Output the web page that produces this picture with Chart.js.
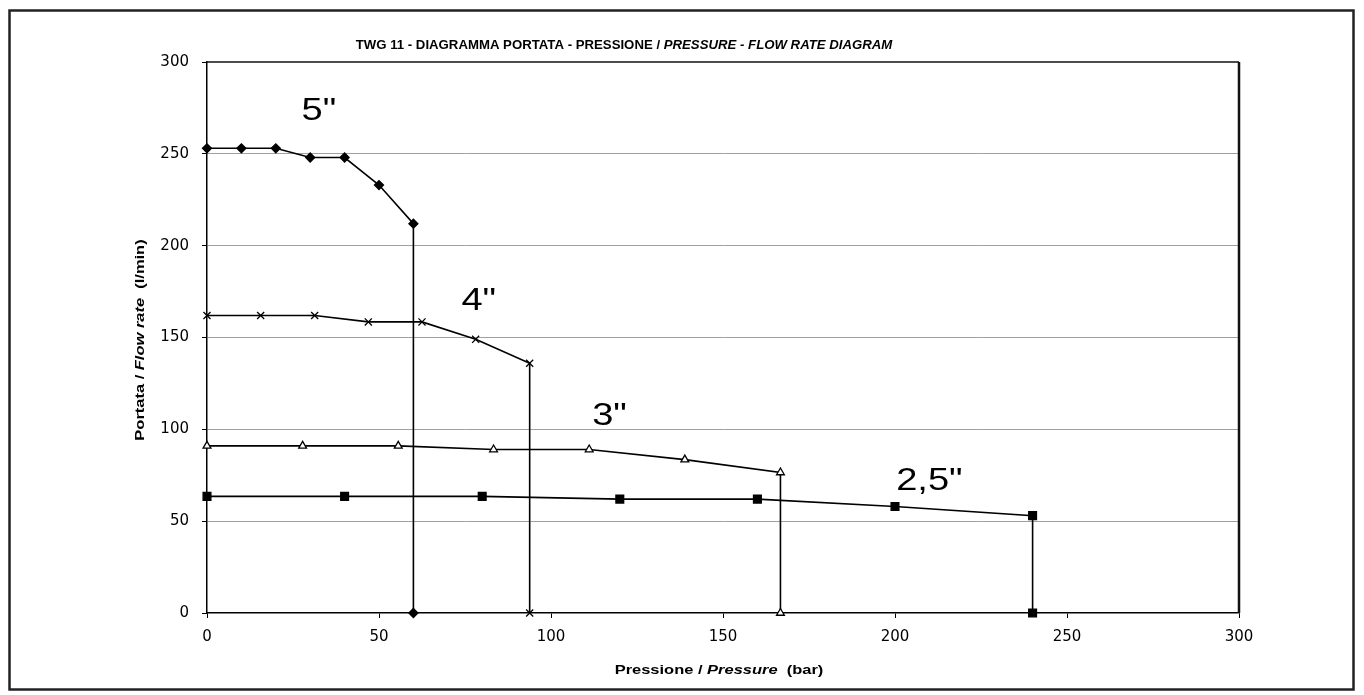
<!DOCTYPE html>
<html>
<head>
<meta charset="utf-8">
<script src="https://cdn.jsdelivr.net/npm/chart.js@4.4.0/dist/chart.umd.min.js"></script>
<style>
  html, body { margin: 0; padding: 0; background: #fff; }
  canvas { display: block; }
</style>
</head>
<body>
<canvas id="chart" width="1364" height="695"></canvas>
<script>
// Pressione (bar) / Portata (l/min) per ogni diametro
const x5 = [0, 10, 20, 30, 40, 50, 60, 60];
const y5 = [253, 253, 253, 248, 248, 233, 212, 0];

const x4 = [0, 15.6, 31.3, 46.9, 62.5, 78.1, 93.8, 93.8];
const y4 = [162, 162, 162, 158.5, 158.5, 149, 136, 0];

const x3 = [0, 27.8, 55.6, 83.3, 111.1, 138.9, 166.7, 166.7];
const y3 = [91, 91, 91, 89, 89, 83.5, 76.5, 0];

const x25 = [0, 40, 80, 120, 160, 200, 240, 240];
const y25 = [63.5, 63.5, 63.5, 62, 62, 58, 53, 0];

const tickValues = [0, 50, 100, 150, 200, 250, 300];

// etichette delle curve (posizione in unita' del grafico)
const curveNames = ['5"', '4"', '3"', '2,5"'];
const curveNameX = [32.5, 79, 117, 210];
const curveNameY = [273, 170, 107, 72];

function pts(xs, ys) {
    return xs.map((x, i) => ({ x: x, y: ys[i] }));
}

const FONT = 'Liberation Sans, Arial, sans-serif';

// testo centrato, con stili misti e leggero allargamento orizzontale
function drawMixed(ctx, parts, x, y, stretch, angle) {
    ctx.save();
    ctx.translate(x, y);
    if (angle) ctx.rotate(angle);
    ctx.scale(stretch, 1);
    let total = 0;
    parts.forEach(p => { ctx.font = p.font; total += ctx.measureText(p.text).width; });
    let cx = -total / 2;
    parts.forEach(p => {
        ctx.font = p.font;
        ctx.fillText(p.text, cx, 0);
        cx += ctx.measureText(p.text).width;
    });
    ctx.restore();
}

const decorPlugin = {
    id: 'decor',
    afterDraw(chart) {
        const ctx = chart.ctx;
        const a = chart.chartArea;
        const sx = chart.scales.x, sy = chart.scales.y;
        ctx.save();

        // cornice esterna
        ctx.strokeStyle = '#222';
        ctx.lineWidth = 2.5;
        ctx.strokeRect(9.5, 10.5, 1344, 679);

        // bordo area grafico
        ctx.strokeStyle = '#111';
        ctx.lineWidth = 1.5;
        ctx.beginPath();
        ctx.moveTo(a.left, a.top);
        ctx.lineTo(a.right, a.top);
        ctx.stroke();
        ctx.lineWidth = 2.5;
        ctx.beginPath();
        ctx.moveTo(a.right, a.top);
        ctx.lineTo(a.right, a.bottom);
        ctx.stroke();

        ctx.fillStyle = '#000';
        ctx.textBaseline = 'middle';
        ctx.textAlign = 'left';

        // titolo
        drawMixed(ctx, [
            { text: 'TWG 11 - DIAGRAMMA PORTATA - PRESSIONE / ', font: 'bold 12px ' + FONT },
            { text: 'PRESSURE - FLOW RATE DIAGRAM', font: 'italic bold 12px ' + FONT }
        ], 624, 46, 1.1);

        // titolo asse x
        drawMixed(ctx, [
            { text: 'Pressione / ', font: 'bold 13.5px ' + FONT },
            { text: 'Pressure', font: 'italic bold 13.5px ' + FONT },
            { text: '  (bar)', font: 'bold 13.5px ' + FONT }
        ], 719, 670, 1.22);

        // titolo asse y
        drawMixed(ctx, [
            { text: 'Portata / ', font: 'bold 13.5px ' + FONT },
            { text: 'Flow rate', font: 'italic bold 13.5px ' + FONT },
            { text: '  (l/min)', font: 'bold 13.5px ' + FONT }
        ], 140, 340, 1.22, -Math.PI / 2);

        // nomi delle curve
        curveNames.forEach((n, i) => {
            drawMixed(ctx, [{ text: n, font: '32px ' + FONT }],
                sx.getPixelForValue(curveNameX[i]), sy.getPixelForValue(curveNameY[i]), 1.19);
        });
        ctx.restore();
    }
};

function series(data, style, fill, radius) {
    return {
        data: data,
        borderColor: '#000',
        borderWidth: 1.6,
        pointStyle: style,
        pointRadius: radius,
        pointBackgroundColor: fill,
        pointBorderColor: '#000',
        pointBorderWidth: 1.3,
        tension: 0,
        clip: false
    };
}

new Chart(document.getElementById('chart'), {
    type: 'line',
    data: {
        datasets: [
            series(pts(x5, y5), 'rectRot', '#000', 4.5),
            series(pts(x4, y4), 'crossRot', '#000', 5),
            series(pts(x3, y3), 'triangle', '#fff', 4.5),
            series(pts(x25, y25), 'rect', '#000', 5.5)
        ]
    },
    options: {
        responsive: false,
        animation: false,
        devicePixelRatio: 1,
        layout: { padding: { top: 62, right: 125, bottom: 0, left: 0 } },
        plugins: {
            legend: { display: false },
            title: { display: false },
            tooltip: { enabled: false }
        },
        scales: {
            x: {
                type: 'linear',
                min: 0,
                max: 300,
                afterBuildTicks: s => { s.ticks = tickValues.map(v => ({ value: v })); },
                afterFit: s => { s.height = 82; },
                grid: { color: 'rgba(0,0,0,0)', tickColor: '#000', tickLength: 5, drawTicks: true },
                border: { display: true, color: '#000', width: 1.5 },
                ticks: { color: '#000', font: { family: 'DejaVu Sans', size: 15 }, padding: 10, maxRotation: 0 }
            },
            y: {
                type: 'linear',
                min: 0,
                max: 300,
                afterBuildTicks: s => { s.ticks = tickValues.map(v => ({ value: v })); },
                afterFit: s => { s.width = 207; },
                grid: {
                    color: c => (c.tick.value === 0 || c.tick.value === 300) ? 'rgba(0,0,0,0)' : '#a0a0a0',
                    tickColor: '#000',
                    tickLength: 5,
                    lineWidth: 1
                },
                border: { display: true, color: '#000', width: 1.5 },
                ticks: { color: '#000', font: { family: 'DejaVu Sans', size: 15 }, padding: 13 }
            }
        }
    },
    plugins: [decorPlugin]
});
</script>
</body>
</html>
